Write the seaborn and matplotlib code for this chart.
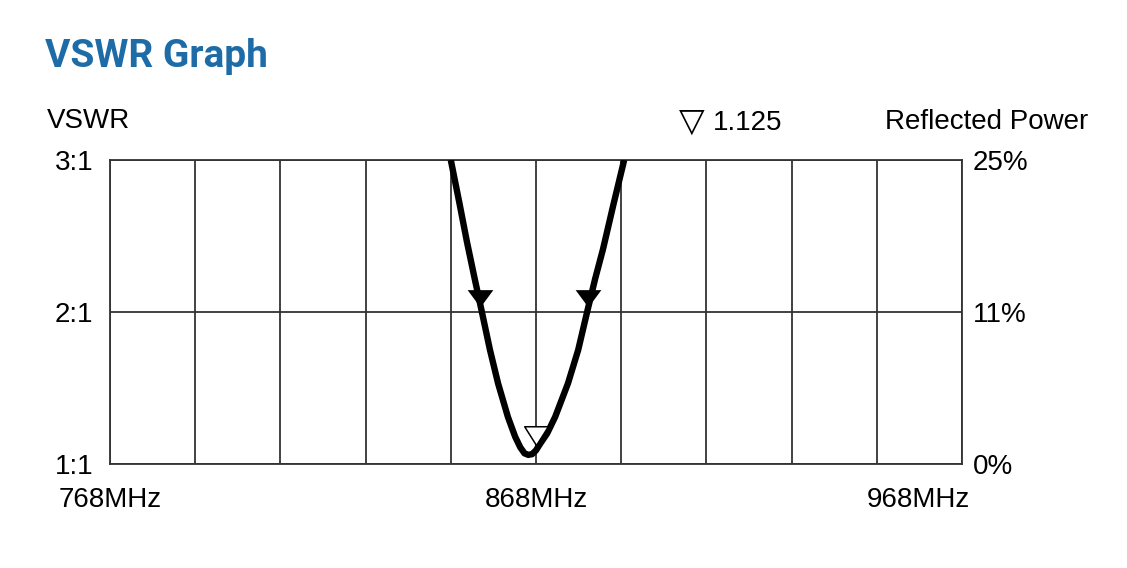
"""VSWR graph of an 868 MHz antenna, redrawn with seaborn."""

import matplotlib

matplotlib.use("Agg")
import matplotlib.pyplot as plt
import pandas as pd
import seaborn as sns
from matplotlib.path import Path
from matplotlib.transforms import ScaledTranslation

# curve (frequency in MHz, VSWR)
FREQ = [848.0, 850.0, 851.8, 853.6, 855.3, 857.2, 859.1, 861.4, 863.1, 864.3, 865.3,
        866.2, 867.1, 868.0, 868.9, 870.6, 872.5, 875.5, 877.9, 880.0, 881.9, 883.7,
        886.2, 888.7]
VSWR = [3.00, 2.72, 2.46, 2.22, 2.00, 1.75, 1.53, 1.31, 1.18, 1.11, 1.07,
        1.06, 1.065, 1.09, 1.13, 1.20, 1.31, 1.53, 1.75, 2.00, 2.22, 2.41,
        2.71, 3.00]

ARROW_FREQ = [854.9, 880.3]
ARROW_VSWR = [2.03, 2.03]
MARKER_FREQ = 868.0
MARKER_VSWR = 1.125

X_TICKS = [768, 868, 968]
X_LABELS = ["768MHz", "868MHz", "968MHz"]
X_GRID = [788, 808, 828, 848, 888, 908, 928, 948]
Y_TICKS = [1, 2, 3]
Y_LABELS = ["1:1", "2:1", "3:1"]
RIGHT_LABELS = ["0%", "11%", "25%"]

GRID_COLOR = "#333333"
TITLE_COLOR = "#1d6ca8"
FONT = ["Liberation Sans", "DejaVu Sans"]

sns.set_theme(style="white")
plt.rcParams["font.family"] = FONT
plt.rcParams["font.size"] = 20
plt.rcParams["text.color"] = "black"

W, H = 1127, 568
fig = plt.figure(figsize=(W / 100, H / 100), dpi=100)
ax = fig.add_axes([110 / W, 104 / H, 852 / W, 304 / H])

curve = pd.DataFrame({"freq": FREQ, "vswr": VSWR})
sns.lineplot(data=curve, x="freq", y="vswr", sort=False, color="black",
             linewidth=4.6, ax=ax, zorder=3, solid_capstyle="butt")

# triangle markers with the tip at the data point
tip_down = Path([(-0.74, 1.0), (0.74, 1.0), (0.0, 0.0), (-0.74, 1.0)],
                [Path.MOVETO, Path.LINETO, Path.LINETO, Path.CLOSEPOLY])
ax.plot(ARROW_FREQ, ARROW_VSWR, linestyle="none", marker=tip_down,
        markersize=25, color="black", markeredgewidth=0, zorder=4)
open_tri = Path([(-0.63, 1.0), (0.63, 1.0), (0.0, 0.0), (-0.63, 1.0)],
                [Path.MOVETO, Path.LINETO, Path.LINETO, Path.CLOSEPOLY])
ax.plot([MARKER_FREQ], [MARKER_VSWR], linestyle="none", marker=open_tri,
        markersize=27, markerfacecolor="white", markeredgecolor="black",
        markeredgewidth=1.1, zorder=5)

ax.set_xlim(768, 968)
ax.set_ylim(1, 3)
ax.set_xlabel("")
ax.set_ylabel("")
ax.set_xticks(X_TICKS, X_LABELS)
ax.set_xticks(X_GRID, minor=True)
ax.set_yticks(Y_TICKS, Y_LABELS)
ax.grid(which="both", axis="x", color=GRID_COLOR, linewidth=1.3)
ax.grid(which="major", axis="y", color=GRID_COLOR, linewidth=1.3)
ax.set_axisbelow(True)
for spine in ax.spines.values():
    spine.set_visible(True)
    spine.set_color(GRID_COLOR)
    spine.set_linewidth(1.3)
ax.tick_params(axis="x", which="both", length=0, pad=16.5, labelsize=20, labelcolor="black")
ax.tick_params(axis="y", length=0, pad=12, labelsize=20, labelcolor="black")

last = ax.get_xticklabels()[-1]
last.set_horizontalalignment("right")
last.set_transform(last.get_transform() + ScaledTranslation(8 / 100, 0, fig.dpi_scale_trans))

right = ax.twinx()
right.set_ylim(1, 3)
right.set_yticks(Y_TICKS, RIGHT_LABELS)
right.tick_params(axis="y", length=0, pad=8, labelsize=20, labelcolor="black")
right.grid(False)
for spine in right.spines.values():
    spine.set_visible(False)

# headings
fig.text(45 / W, 1 - 67 / H, "VSWR Graph", color=TITLE_COLOR, fontsize=28,
         fontweight="bold", family=["Roboto", "DejaVu Sans"], va="baseline")
fig.text(47 / W, 1 - 128 / H, "VSWR", fontsize=20, va="baseline")
fig.text(679 / W, 1 - 131 / H, "\u25bd", fontsize=24, va="baseline",
         family=["DejaVu Sans"])
fig.text(713 / W, 1 - 130 / H, "1.125", fontsize=20, va="baseline")
fig.text(885 / W, 1 - 129 / H, "Reflected Power", fontsize=20, va="baseline")

fig.savefig("out.png", dpi=100, facecolor="white")
